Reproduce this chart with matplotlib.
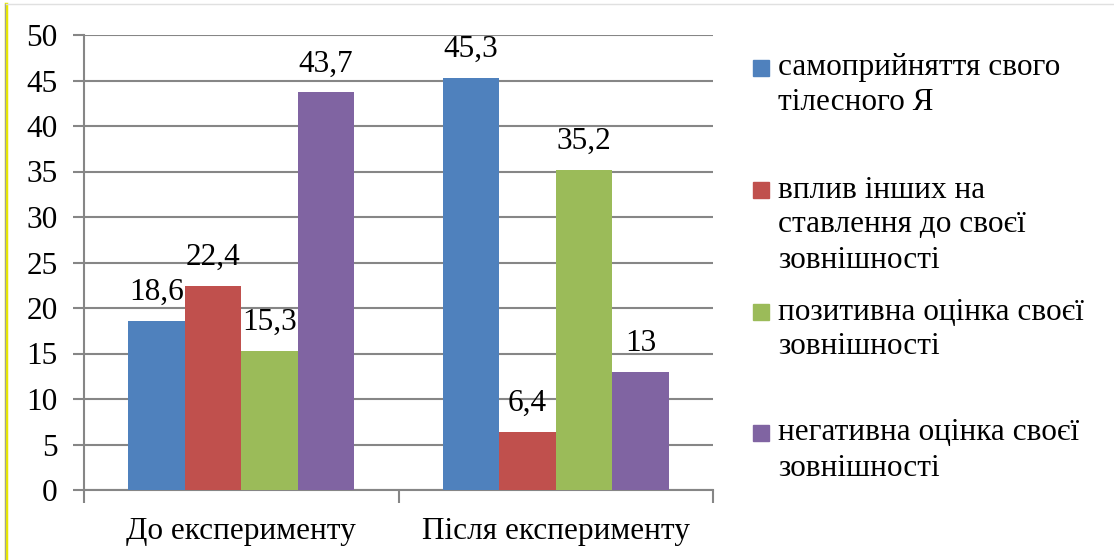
import matplotlib
matplotlib.use("Agg")
import matplotlib.pyplot as plt
from matplotlib.patches import Rectangle
from matplotlib.lines import Line2D
import numpy as np

categories = ["До експерименту", "Після експерименту"]
series_names = [
    "самоприйняття свого\nтілесного Я",
    "вплив інших на\nставлення до своєї\nзовнішності",
    "позитивна оцінка своєї\nзовнішності",
    "негативна оцінка своєї\nзовнішності",
]
series_values = [
    [18.6, 45.3],
    [22.4, 6.4],
    [15.3, 35.2],
    [43.7, 13.0],
]
value_labels = [
    ["18,6", "45,3"],
    ["22,4", "6,4"],
    ["15,3", "35,2"],
    ["43,7", "13"],
]
colors = ["#4F81BD", "#C0504D", "#9BBB59", "#8064A2"]
yticks = [0, 5, 10, 15, 20, 25, 30, 35, 40, 45, 50]

plt.rcParams['font.family'] = ['Liberation Serif', 'DejaVu Serif']
FS = 22.5

W, H = 1114, 560
fig = plt.figure(figsize=(W / 100, H / 100), dpi=100)
ax = fig.add_axes([84 / W, 1 - 490 / H, (713 - 84) / W, (490 - 35) / H])

grid_c = "#868686"
x = np.arange(len(categories))
bw = 0.18
n = len(series_values)
for i, (vals, labs) in enumerate(zip(series_values, value_labels)):
    pos = x + (i - (n - 1) / 2) * bw
    bars = ax.bar(pos, vals, width=bw, color=colors[i], zorder=3)
    for b, lab in zip(bars, labs):
        ax.annotate(lab, (b.get_x() + b.get_width() / 2, b.get_height()),
                    xytext=(0, 15), textcoords="offset points",
                    ha="center", va="baseline", fontsize=FS, color="black")

ax.set_xlim(-0.5, 1.5)
ax.set_ylim(0, 50)
ax.set_yticks(yticks)
ax.set_yticklabels([str(t) for t in yticks], fontsize=FS)
ax.yaxis.grid(True, color=grid_c, linewidth=1.5, zorder=0)
ax.set_axisbelow(True)
ax.tick_params(axis="y", length=8, width=1.5, color=grid_c, pad=11)

ax.set_xticks(x)
ax.set_xticklabels(categories, fontsize=FS)
ax.set_xticks([-0.5, 0.5, 1.5], minor=True)
ax.tick_params(axis="x", which="major", length=0, pad=19.5)
ax.tick_params(axis="x", which="minor", length=9, width=1.5, color=grid_c)

for s in ["top", "right"]:
    ax.spines[s].set_visible(False)
for s in ["left", "bottom"]:
    ax.spines[s].set_color(grid_c)
    ax.spines[s].set_linewidth(1.5)

# legend drawn manually
item_tops = [68, 190, 312, 433]
line_h = 35
sq = 16
for i, name in enumerate(series_names):
    yc = item_tops[i]
    fig.patches.append(Rectangle((753 / W, 1 - (yc + sq / 2) / H), sq / W, sq / H,
                                 transform=fig.transFigure, color=colors[i]))
    for j, line in enumerate(name.split("\n")):
        fig.text(778 / W, 1 - (yc + j * line_h) / H, line, fontsize=FS,
                 ha="left", va="center")

# decorative frame lines
fig.add_artist(Line2D([6 / W, 6 / W], [0, 1 - 4 / H], color="#E8E800", linewidth=2.5,
                      transform=fig.transFigure))
fig.add_artist(Line2D([4.5 / W, 4.5 / W], [0, 1 - 4 / H], color="#A0A0A0", linewidth=0.8,
                      transform=fig.transFigure))
fig.add_artist(Line2D([6 / W, 1], [1 - 4 / H, 1 - 4 / H], color="#E0E0E0", linewidth=1,
                      transform=fig.transFigure))

fig.savefig("out.png", dpi=100)
